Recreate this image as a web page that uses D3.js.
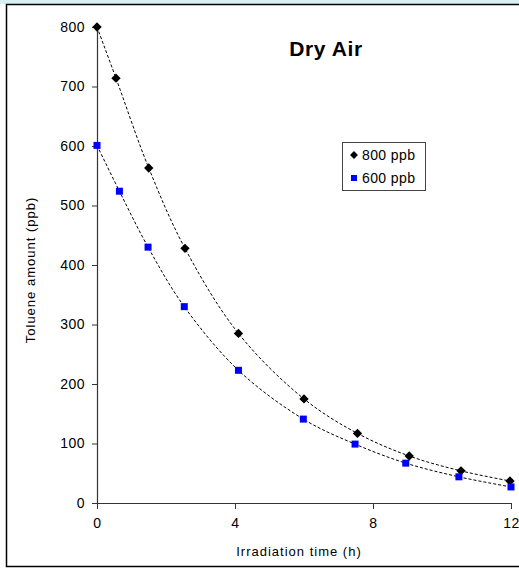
<!DOCTYPE html>
<html>
<head>
<meta charset="utf-8">
<script src="https://cdn.jsdelivr.net/npm/d3@7"></script>
<style>
  body { margin: 0; background: #fff; }
  text { font-family: "Liberation Sans", Arial, sans-serif; fill: #000; }
</style>
</head>
<body>
<svg width="519" height="569"></svg>
<script>
// data
var times800 = [0, 0.55, 1.5, 2.55, 4.1, 6, 7.55, 9.05, 10.55, 11.97];
var values800 = [800, 714, 563, 428, 285, 175, 117, 79, 54, 37];
var times600 = [0, 0.65, 1.48, 2.53, 4.1, 5.98, 7.48, 8.95, 10.49, 12];
var values600 = [601, 524, 430, 330, 223, 141, 99, 67, 44, 27];
var xTicks = [0, 4, 8, 12];
var yTicks = [0, 100, 200, 300, 400, 500, 600, 700, 800];

var svg = d3.select("svg");

// outer frame (top strip is light cyan)
svg.append("rect").attr("x", 0).attr("y", 0).attr("width", 519).attr("height", 4).attr("fill", "#d8f0f2");
svg.append("rect").attr("x", 6.5).attr("y", 4.5).attr("width", 520).attr("height", 562)
  .attr("fill", "#fff").attr("stroke", "#000").attr("stroke-width", 1.5);

var x = d3.scaleLinear().domain([0, 12]).range([97, 511]);
var y = d3.scaleLinear().domain([0, 800]).range([503, 27]);

var xAxis = svg.append("g").attr("transform", "translate(0,503)")
  .call(d3.axisBottom(x).tickValues(xTicks).tickSize(6).tickSizeOuter(0));
var yAxis = svg.append("g").attr("transform", "translate(97,0)")
  .call(d3.axisLeft(y).tickValues(yTicks).tickSize(5).tickSizeOuter(0));

[xAxis, yAxis].forEach(function(a) {
  a.select(".domain").attr("stroke", "#333").attr("stroke-width", 1.2);
  a.selectAll(".tick line").attr("stroke", "#333");
  a.selectAll("text").style("font-size", "14px").style("letter-spacing", "0.5px")
    .style("font-family", "Liberation Sans, Arial, sans-serif");
});
xAxis.selectAll("text").attr("dy", "1.15em");
yAxis.selectAll("text").attr("x", -12);

// axis titles
svg.append("text").attr("x", 299).attr("y", 556).attr("text-anchor", "middle")
  .style("font-size", "13px").style("letter-spacing", "1px").text("Irradiation time (h)");
svg.append("text").attr("transform", "translate(35,270) rotate(-90)").attr("text-anchor", "middle")
  .style("font-size", "13px").style("letter-spacing", "1px").text("Toluene amount (ppb)");

// title
svg.append("text").attr("x", 326).attr("y", 56).attr("text-anchor", "middle")
  .style("font-size", "21px").style("letter-spacing", "0.6px").style("font-weight", "bold").text("Dry Air");

// trend lines
var line = d3.line().curve(d3.curveCatmullRom.alpha(0.5))
  .x(function(d) { return x(d[0]); }).y(function(d) { return y(d[1]); });

var s800 = d3.zip(times800, values800);
var s600 = d3.zip(times600, values600);

[s800, s600].forEach(function(s) {
  svg.append("path").datum(s).attr("d", line)
    .attr("fill", "none").attr("stroke", "#000").attr("stroke-width", 1)
    .attr("stroke-dasharray", "3,2");
});

// markers
var diamond = d3.symbol().type(d3.symbolDiamond2).size(56);
svg.selectAll(".d800").data(s800).enter().append("path")
  .attr("class", "d800")
  .attr("transform", function(d) { return "translate(" + x(d[0]) + "," + y(d[1]) + ")"; })
  .attr("d", diamond).attr("fill", "#000");

svg.selectAll(".d600").data(s600).enter().append("rect")
  .attr("class", "d600")
  .attr("x", function(d) { return x(d[0]) - 3.5; })
  .attr("y", function(d) { return y(d[1]) - 3.5; })
  .attr("width", 7).attr("height", 7).attr("fill", "#0000ff");

// legend
var lg = svg.append("g");
lg.append("rect").attr("x", 342.5).attr("y", 142.5).attr("width", 83).attr("height", 48)
  .attr("fill", "#fff").attr("stroke", "#444").attr("stroke-width", 1);
lg.append("path").attr("transform", "translate(354,155)").attr("d", d3.symbol().type(d3.symbolDiamond2).size(40)).attr("fill", "#000");
lg.append("rect").attr("x", 351).attr("y", 175).attr("width", 6).attr("height", 6).attr("fill", "#0000ff");
lg.append("text").attr("x", 362).attr("y", 160).style("font-size", "14px").style("letter-spacing", "0.4px").text("800 ppb");
lg.append("text").attr("x", 362).attr("y", 183).style("font-size", "14px").style("letter-spacing", "0.4px").text("600 ppb");
</script>
</body>
</html>
